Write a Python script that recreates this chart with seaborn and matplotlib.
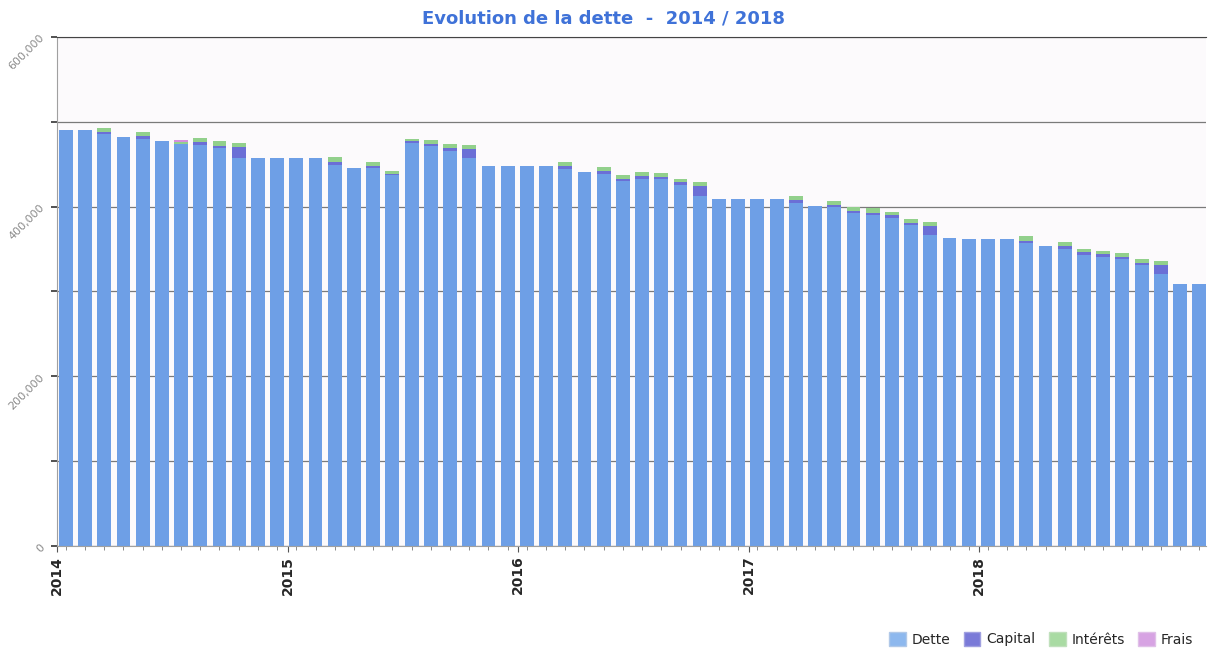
import numpy as np
import pandas as pd
import matplotlib.pyplot as plt
import matplotlib.ticker as mticker
from matplotlib.patches import Patch
import seaborn as sns

# Monthly values 2014-2018 (in thousands of euros)
months = pd.date_range('2014-01-01', '2018-12-01', freq='MS').strftime('%Y-%m').tolist()

dette = [490, 490, 485, 482, 480, 477, 474, 473, 469, 457,
         457, 457, 457, 457, 449, 446, 445, 437, 475, 471,
         466, 457, 448, 448, 448, 448, 444, 441, 439, 430,
         433, 432, 426, 412, 409, 409, 409, 409, 404, 401,
         399, 392, 390, 387, 378, 366, 363, 362, 362, 362,
         357, 353, 350, 343, 341, 338, 331, 320, 309, 309]
capital = [0, 0, 3, 0, 3, 0, 0, 3, 3, 13,
           0, 0, 0, 0, 4, 0, 3, 2, 2, 3,
           3, 11, 0, 0, 0, 0, 4, 0, 3, 3,
           3, 3, 3, 12, 0, 0, 0, 0, 4, 0,
           3, 3, 3, 3, 3, 11, 0, 0, 0, 0,
           3, 0, 3, 3, 3, 3, 3, 11, 0, 0]
interets = [0, 0, 5, 0, 5, 0, 2, 5, 5, 5,
            0, 0, 0, 0, 5, 0, 5, 3, 3, 5,
            5, 5, 0, 0, 0, 0, 5, 0, 5, 4,
            5, 5, 4, 5, 0, 0, 0, 0, 5, 0,
            5, 4, 5, 4, 4, 5, 0, 0, 0, 0,
            5, 0, 5, 4, 4, 4, 4, 5, 0, 0]
frais = [0, 0, 0, 0, 0, 0, 3, 0, 0, 0] + [0] * 50

years = ['2014', '2015', '2016', '2017', '2018']

df = pd.DataFrame({
    'mois': months,
    'dette': np.array(dette) * 1000,
    'capital': np.array(capital) * 1000,
    'interets': np.array(interets) * 1000,
    'frais': np.array(frais) * 1000,
})
df['c1'] = df['dette'] + df['capital']
df['c2'] = df['c1'] + df['interets']
df['c3'] = df['c2'] + df['frais']

sns.set_style('white')
plt.rcParams['font.family'] = ['DejaVu Sans']

col_dette = '#6e9fe6'
col_capital = '#6b6fd6'
col_interets = '#92d08c'
col_frais = '#d58fdc'

fig = plt.figure(figsize=(12.08, 6.59), dpi=100)
ax = fig.add_axes([0.047, 0.1715, 0.951, 0.7725])
ax.set_facecolor('#fcfafc')

# stacked bars: draw cumulative totals from the top down
bar_kw = dict(width=0.72, saturation=1, linewidth=0, edgecolor='none', ax=ax)
sns.barplot(data=df, x='mois', y='c3', color=col_frais, **bar_kw)
sns.barplot(data=df, x='mois', y='c2', color=col_interets, **bar_kw)
sns.barplot(data=df, x='mois', y='c1', color=col_capital, **bar_kw)
sns.barplot(data=df, x='mois', y='dette', color=col_dette, **bar_kw)

ax.set_xlim(-0.47, 59.33)
ax.set_ylim(0, 600000)
ax.yaxis.set_major_locator(mticker.MultipleLocator(100000))
ax.yaxis.set_major_formatter(mticker.FuncFormatter(
    lambda v, p: ('0' if v == 0 else f'{int(v):,}') if v % 200000 == 0 else ''))
ax.tick_params(axis='y', labelsize=8, labelcolor='#8a8a8a', rotation=45,
               length=4, width=1.2, color='#333333', left=True)
for lab in ax.get_yticklabels():
    lab.set_ha('right')
ax.grid(axis='y', color='#7a7a7a', linewidth=0.9)
ax.set_axisbelow(True)

ax.set_xticks(np.arange(0, 60, 12) - 0.45)
ax.set_xticklabels(years, rotation=90, fontweight='bold', fontsize=10)
ax.set_xticks(np.arange(60), minor=True)
ax.tick_params(axis='x', which='major', length=4, color='#555555', bottom=True, pad=3)
ax.tick_params(axis='x', which='minor', length=3, color='#777777', bottom=True)

ax.set_xlabel('')
ax.set_ylabel('')

for side in ['left', 'bottom']:
    ax.spines[side].set_color('#a0a0a0')
ax.spines['top'].set_color('#444444')
ax.spines['right'].set_visible(False)

fig.text(0.5, 0.972, 'Evolution de la dette  -  2014 / 2018', ha='center', va='center',
         fontsize=13, fontweight='bold', color='#3f72d8')

handles = [Patch(facecolor='#8db8ee', edgecolor='#b0c8e8', label='Dette'),
           Patch(facecolor='#7a7ad8', edgecolor='#a0a0e0', label='Capital'),
           Patch(facecolor='#a9dba3', edgecolor='#c0e0bc', label='Intérêts'),
           Patch(facecolor='#d7a3e3', edgecolor='#e0c0e8', label='Frais')]
fig.legend(handles=handles, loc='lower right', bbox_to_anchor=(0.998, 0.0), ncol=4,
           frameon=False, fontsize=10, handlelength=1.2, handleheight=1.2,
           handletextpad=0.4, columnspacing=1.0)

fig.savefig('out.png', dpi=100)
